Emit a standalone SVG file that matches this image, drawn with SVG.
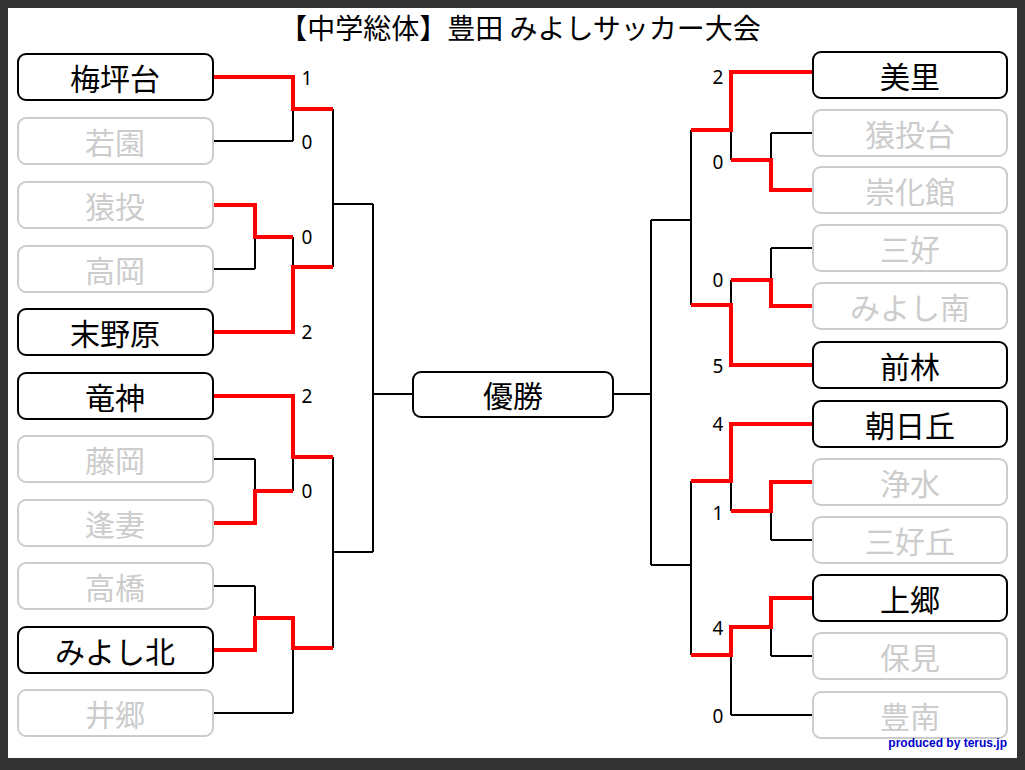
<svg xmlns="http://www.w3.org/2000/svg" width="1025" height="770" viewBox="0 0 1025 770">
<style>
.n rect{fill:#fff;stroke:#000;stroke-width:2}
.n text{font-family:"Noto Sans CJK JP",sans-serif;font-size:30px;text-anchor:middle;dominant-baseline:central}
.l rect{stroke:#ccc}
.l text{fill:#ccc}
.b{fill:none;stroke:#000;stroke-width:2}
.r{fill:none;stroke:#f00;stroke-width:4}
.s{font-family:"Noto Sans","DejaVu Sans",sans-serif;font-size:19px;text-anchor:middle;dominant-baseline:central}
</style>
<rect width="1025" height="770" fill="#333"/>
<rect x="8" y="8" width="1009" height="750" fill="#fff"/>
<text x="520" y="27" font-family="Noto Sans CJK JP,sans-serif" font-size="28" text-anchor="middle" dominant-baseline="central">【中学総体】豊田 みよしサッカー大会</text>
<g id="connectors">
<path class="b" d="M213 141H293M293 77V141M213 269H255M255 205V269M293 237V332M213 459H255M255 459V523M293 396V491M213 586H255M255 586V650M213 713H293M293 618V713M333 109V267M333 204H373M333 457V648M333 552H373M373 204V552M373 394H413M613 394H651M651 220V565M651 220H691M651 565H691M691 130V305M691 481V655M731 72V160M731 280V365M731 424V511M731 627V715M731 715H813M731 160H771M771 133V190M771 133H813M731 280H771M771 248V306M771 248H813M771 482V540M771 540H813M771 598V656M771 656H813"/>
<path class="r" d="M213 77H293V109H333M213 205H255V237H293M213 332H293V267H333M213 396H293V457H333M213 523H255V491H293M213 650H255V618H293V648H333M813 72H731V130H691M813 190H771V160H731M691 305H731V365H813M813 306H771V280H731M813 424H731V481H691M813 482H771V511H731M813 598H771V627H731V655H691"/>
</g>
<g class="s">
<text x="307" y="78">1</text><text x="307" y="142">0</text><text x="307" y="237">0</text><text x="307" y="332">2</text><text x="307" y="396">2</text><text x="307" y="491">0</text>
<text x="718" y="77">2</text><text x="718" y="162">0</text><text x="718" y="280">0</text><text x="718" y="366">5</text><text x="718" y="424">4</text><text x="718" y="513">1</text><text x="718" y="628">4</text><text x="718" y="716">0</text>
</g>
<g id="n1" class="n"><rect x="18" y="54" width="195" height="46" rx="8"/><text x="115" y="77">梅坪台</text></g>
<g id="n2" class="n l"><rect x="18" y="118" width="195" height="46" rx="8"/><text x="115" y="141">若園</text></g>
<g id="n3" class="n l"><rect x="18" y="182" width="195" height="46" rx="8"/><text x="115" y="205">猿投</text></g>
<g id="n4" class="n l"><rect x="18" y="246" width="195" height="46" rx="8"/><text x="115" y="269">高岡</text></g>
<g id="n5" class="n"><rect x="18" y="309" width="195" height="46" rx="8"/><text x="115" y="332">末野原</text></g>
<g id="n6" class="n"><rect x="18" y="373" width="195" height="46" rx="8"/><text x="115" y="396">竜神</text></g>
<g id="n7" class="n l"><rect x="18" y="436" width="195" height="46" rx="8"/><text x="115" y="459">藤岡</text></g>
<g id="n8" class="n l"><rect x="18" y="500" width="195" height="46" rx="8"/><text x="115" y="523">逢妻</text></g>
<g id="n9" class="n l"><rect x="18" y="563" width="195" height="46" rx="8"/><text x="115" y="586">高橋</text></g>
<g id="n10" class="n"><rect x="18" y="627" width="195" height="46" rx="8"/><text x="115" y="650">みよし北</text></g>
<g id="n11" class="n l"><rect x="18" y="690" width="195" height="46" rx="8"/><text x="115" y="713">井郷</text></g>
<g id="win" class="n"><rect x="413" y="372" width="200" height="45" rx="8"/><text x="513" y="394">優勝</text></g>
<g id="m1" class="n"><rect x="813" y="52" width="194" height="46" rx="8"/><text x="910" y="75">美里</text></g>
<g id="m2" class="n l"><rect x="813" y="110" width="194" height="46" rx="8"/><text x="910" y="133">猿投台</text></g>
<g id="m3" class="n l"><rect x="813" y="167" width="194" height="46" rx="8"/><text x="910" y="190">崇化館</text></g>
<g id="m4" class="n l"><rect x="813" y="225" width="194" height="46" rx="8"/><text x="910" y="248">三好</text></g>
<g id="m5" class="n l"><rect x="813" y="283" width="194" height="46" rx="8"/><text x="910" y="306">みよし南</text></g>
<g id="m6" class="n"><rect x="813" y="342" width="194" height="46" rx="8"/><text x="910" y="365">前林</text></g>
<g id="m7" class="n"><rect x="813" y="401" width="194" height="46" rx="8"/><text x="910" y="424">朝日丘</text></g>
<g id="m8" class="n l"><rect x="813" y="459" width="194" height="46" rx="8"/><text x="910" y="482">浄水</text></g>
<g id="m9" class="n l"><rect x="813" y="517" width="194" height="46" rx="8"/><text x="910" y="540">三好丘</text></g>
<g id="m10" class="n"><rect x="813" y="575" width="194" height="46" rx="8"/><text x="910" y="598">上郷</text></g>
<g id="m11" class="n l"><rect x="813" y="633" width="194" height="46" rx="8"/><text x="910" y="656">保見</text></g>
<g id="m12" class="n l"><rect x="813" y="692" width="194" height="46" rx="8"/><text x="910" y="715">豊南</text></g>
<text x="1007" y="747" font-family="Liberation Sans,sans-serif" font-size="12" font-weight="bold" fill="#00c" text-anchor="end">produced by terus.jp</text>
</svg>
